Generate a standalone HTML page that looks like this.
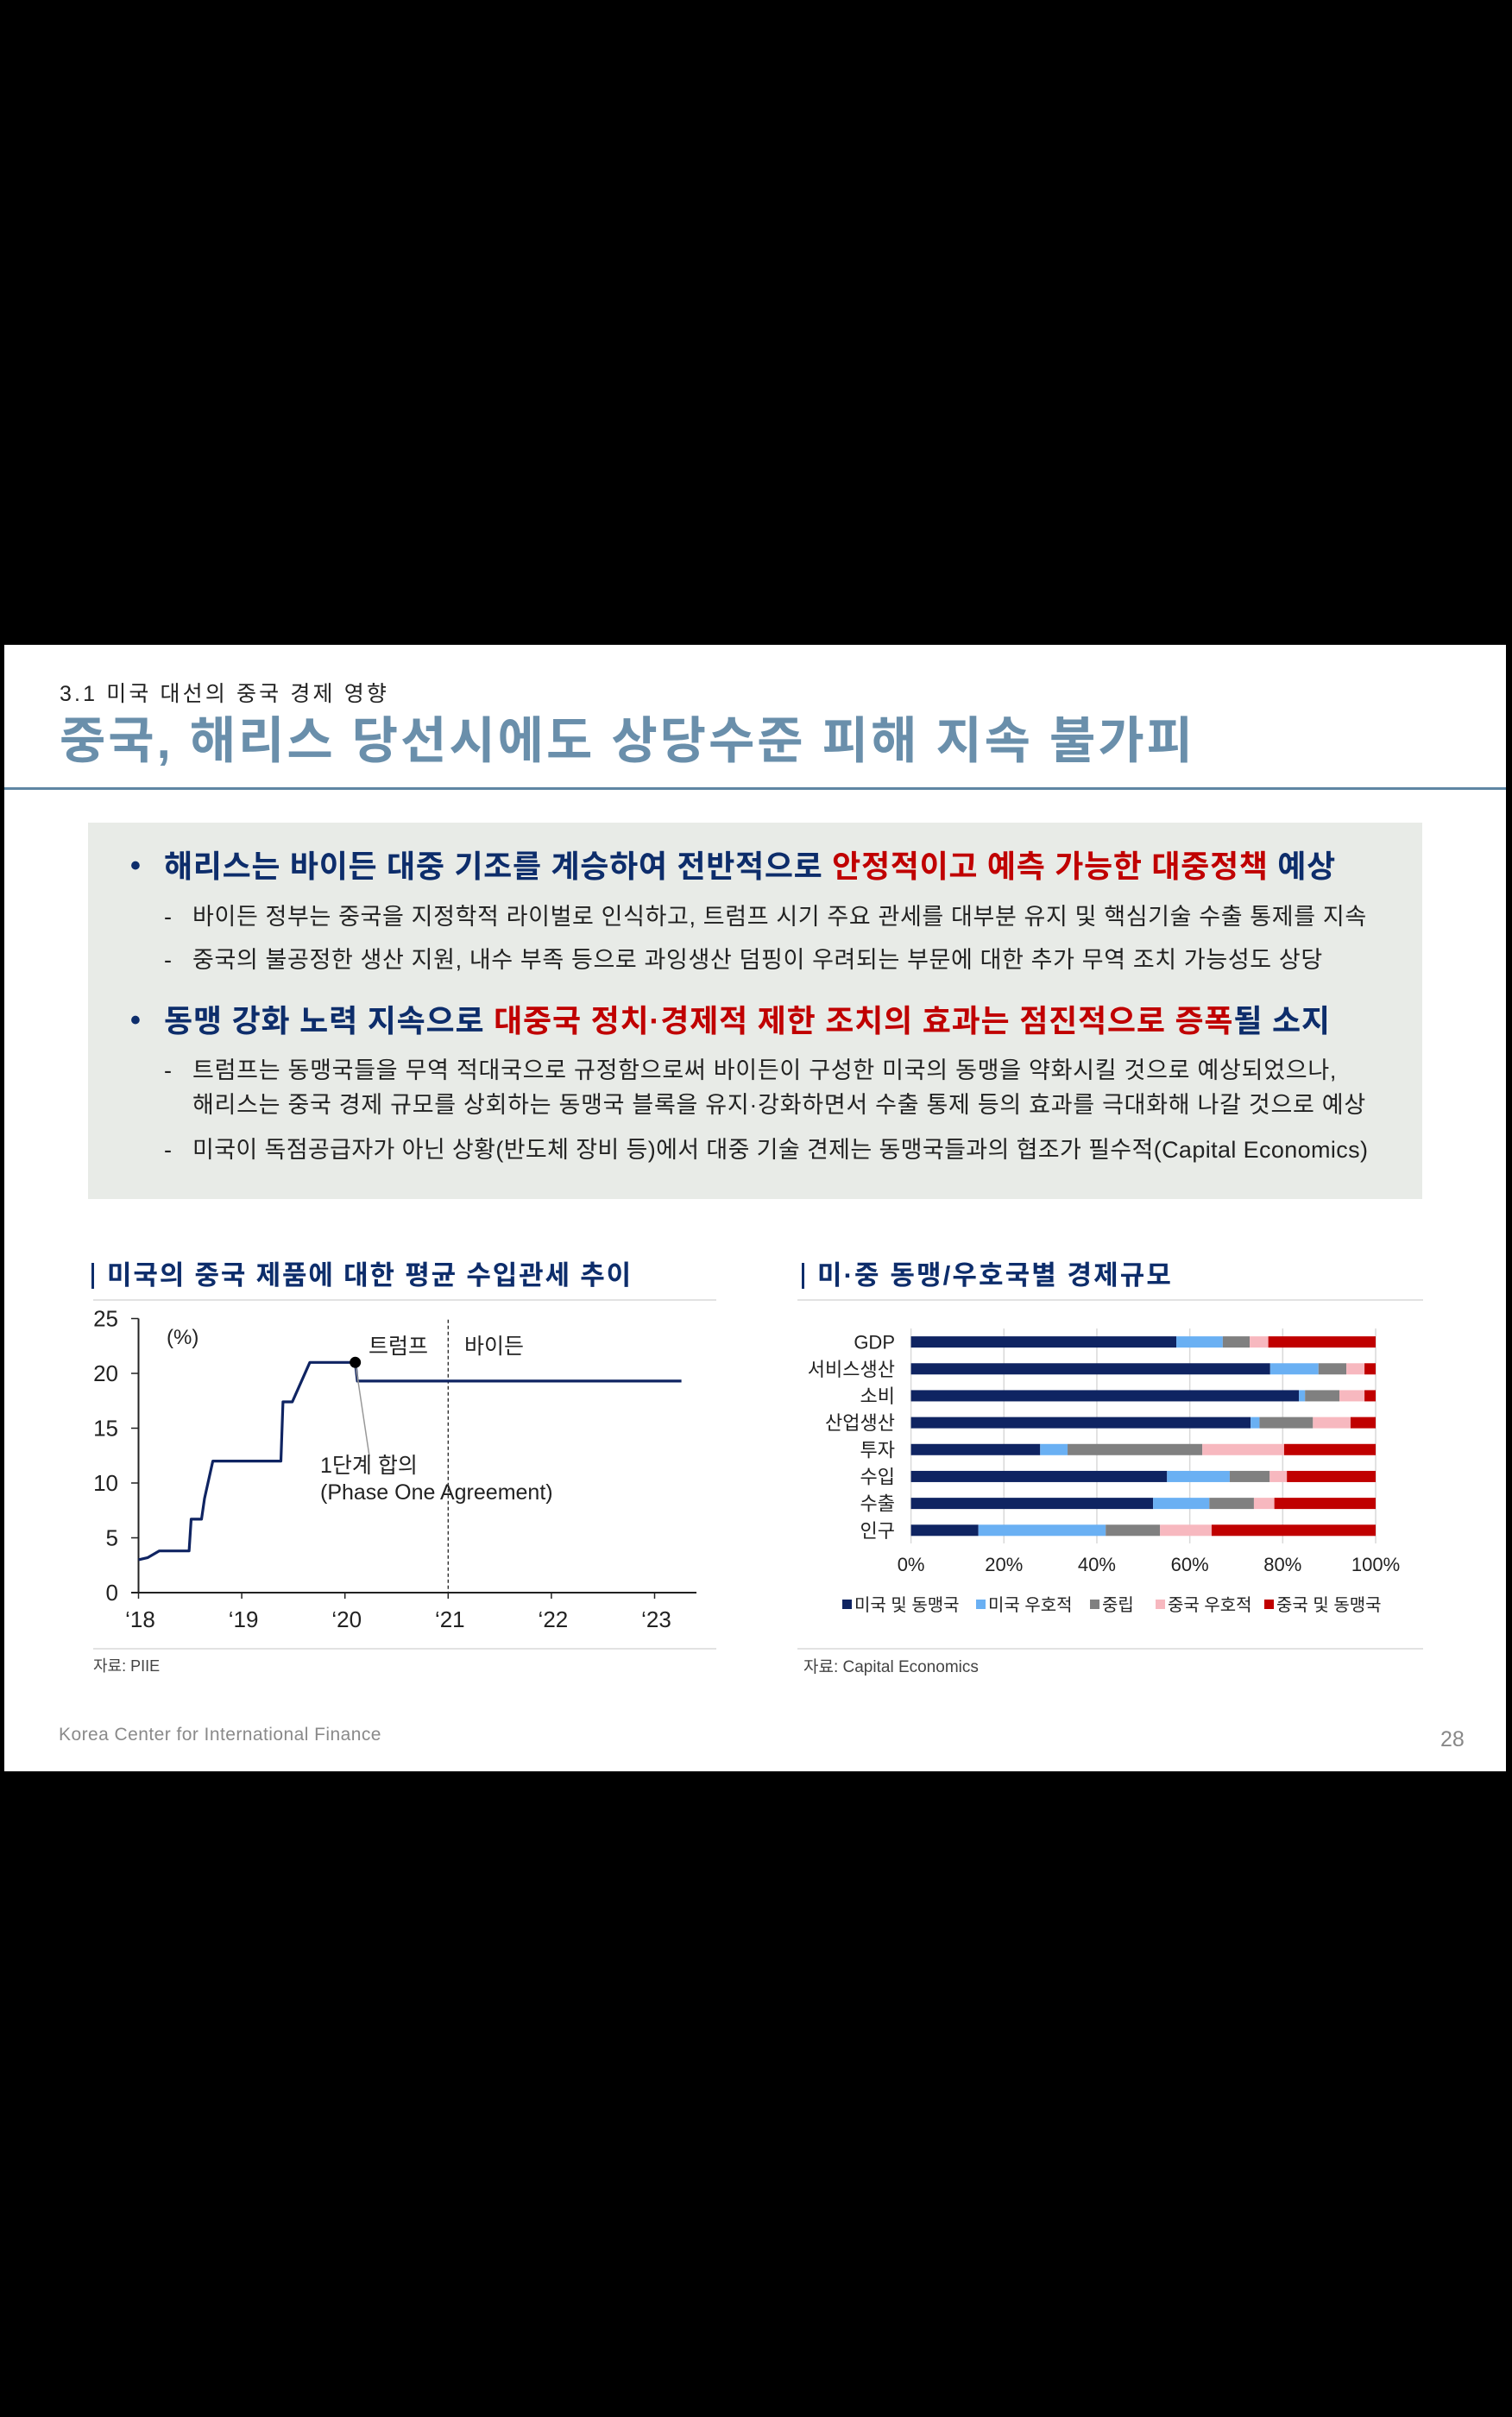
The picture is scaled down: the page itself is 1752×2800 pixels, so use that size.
<!DOCTYPE html>
<html><head><meta charset="utf-8">
<style>
html,body{margin:0;padding:0;background:#000;}
body{width:1752px;height:2800px;position:relative;overflow:hidden;font-family:"Liberation Sans","Noto Sans CJK KR",sans-serif;}
#slide{position:absolute;left:5px;top:747px;width:1740px;height:1305px;background:#fff;}
.a{position:absolute;white-space:nowrap;line-height:1;}
.b{color:#0d2d6b;font-weight:bold;}
.r{color:#c00000;}
.s{color:#222;font-size:27px;}
</style></head>
<body>
<div id="slide"></div>
<div class="a fit" data-w="382" style="left:69px;top:792px;font-size:25px;color:#222;">3.1 미국 대선의 중국 경제 영향</div>
<div class="a fit" data-w="1316" style="left:69px;top:830px;font-size:58px;font-weight:bold;color:#6a8fab;">중국, 해리스 당선시에도 상당수준 피해 지속 불가피</div>
<div class="a" style="left:5px;top:912px;width:1740px;height:3px;background:#5f86a3;"></div>

<div class="a" style="left:102px;top:953px;width:1546px;height:436px;background:#e8ebe7;"></div>
<div class="a b" style="left:151px;top:986px;font-size:34px;">•</div>
<div class="a fit b" data-w="1358" style="left:190px;top:986px;font-size:36px;">해리스는 바이든 대중 기조를 계승하여 전반적으로 <span class="r">안정적이고 예측 가능한 대중정책</span> 예상</div>
<div class="a s" style="left:190px;top:1049px;">-</div>
<div class="a s fit" data-w="1361" style="left:223px;top:1049px;">바이든 정부는 중국을 지정학적 라이벌로 인식하고, 트럼프 시기 주요 관세를 대부분 유지 및 핵심기술 수출 통제를 지속</div>
<div class="a s" style="left:190px;top:1099px;">-</div>
<div class="a s fit" data-w="1310" style="left:223px;top:1099px;">중국의 불공정한 생산 지원, 내수 부족 등으로 과잉생산 덤핑이 우려되는 부문에 대한 추가 무역 조치 가능성도 상당</div>
<div class="a b" style="left:151px;top:1165px;font-size:34px;">•</div>
<div class="a fit b" data-w="1352" style="left:190px;top:1165px;font-size:36px;">동맹 강화 노력 지속으로 <span class="r">대중국 정치·경제적 제한 조치의 효과는 점진적으로 증폭</span>될 소지</div>
<div class="a s" style="left:190px;top:1227px;">-</div>
<div class="a s fit" data-w="1326" style="left:223px;top:1227px;">트럼프는 동맹국들을 무역 적대국으로 규정함으로써 바이든이 구성한 미국의 동맹을 약화시킬 것으로 예상되었으나,</div>
<div class="a s fit" data-w="1360" style="left:223px;top:1267px;">해리스는 중국 경제 규모를 상회하는 동맹국 블록을 유지·강화하면서 수출 통제 등의 효과를 극대화해 나갈 것으로 예상</div>
<div class="a s" style="left:190px;top:1319px;">-</div>
<div class="a s fit" data-w="1362" style="left:223px;top:1319px;">미국이 독점공급자가 아닌 상황(반도체 장비 등)에서 대중 기술 견제는 동맹국들과의 협조가 필수적(Capital Economics)</div>

<div class="a" style="left:106px;top:1463px;width:3px;height:30px;background:#0d2d6b;"></div>
<div class="a fit b" data-w="609" style="left:124px;top:1462px;font-size:31px;">미국의 중국 제품에 대한 평균 수입관세 추이</div>
<div class="a" style="left:108px;top:1505px;width:722px;height:2px;background:#e2e2e2;"></div>
<div class="a" style="left:108px;top:1909px;width:722px;height:2px;background:#e2e2e2;"></div>
<div class="a" style="left:108px;top:1921px;font-size:18px;color:#444;">자료: PIIE</div>

<div class="a" style="left:929px;top:1463px;width:3px;height:30px;background:#0d2d6b;"></div>
<div class="a fit b" data-w="412" style="left:947px;top:1462px;font-size:31px;">미·중 동맹/우호국별 경제규모</div>
<div class="a" style="left:924px;top:1505px;width:725px;height:2px;background:#e2e2e2;"></div>
<div class="a" style="left:924px;top:1909px;width:725px;height:2px;background:#e2e2e2;"></div>
<div class="a" style="left:931px;top:1922px;font-size:19px;color:#444;">자료: Capital Economics</div>

<div class="a fit" data-w="374" style="left:68px;top:1999px;font-size:21px;color:#8a8a8a;">Korea Center for International Finance</div>
<div class="a" style="left:1669px;top:2003px;font-size:25px;color:#888;">28</div>

<svg id="charts" width="1752" height="2800" style="position:absolute;left:0;top:0;"></svg>

<script>
// ---- Line chart data ----
const lineYears = [2018.0, 2018.09, 2018.2, 2018.49, 2018.51, 2018.61, 2018.64, 2018.72, 2019.38, 2019.4, 2019.49, 2019.66, 2020.1, 2020.12, 2023.26];
const lineValues = [3.0, 3.2, 3.8, 3.8, 6.7, 6.7, 8.6, 12.0, 12.0, 17.4, 17.4, 21.0, 21.0, 19.3, 19.3];
const yTicks = [0, 5, 10, 15, 20, 25];
const xTickYears = [2018, 2019, 2020, 2021, 2022, 2023];
const xTickLabels = ["‘18", "‘19", "‘20", "‘21", "‘22", "‘23"];
const phaseOneYear = 2020.1;
const phaseOneValue = 21.0;

// ---- Bar chart data ----
const barCategories = ["GDP", "서비스생산", "소비", "산업생산", "투자", "수입", "수출", "인구"];
const usAllies = [57.1, 77.3, 83.5, 73.1, 27.8, 55.1, 52.1, 14.5];
const usFriendly = [10.0, 10.4, 1.3, 1.9, 5.9, 13.5, 12.1, 27.4];
const neutral = [5.8, 6.0, 7.4, 11.5, 29.0, 8.6, 9.6, 11.7];
const cnFriendly = [4.0, 3.9, 5.4, 8.1, 17.6, 3.7, 4.4, 11.1];
const cnAllies = [23.1, 2.4, 2.4, 5.4, 19.7, 19.1, 21.8, 35.3];
const seriesNames = ["미국 및 동맹국", "미국 우호적", "중립", "중국 우호적", "중국 및 동맹국"];
const pctTicks = [0, 20, 40, 60, 80, 100];

const NS = "http://www.w3.org/2000/svg";
const svg = document.getElementById('charts');
function mk(tag, attrs, parent) {
  const e = document.createElementNS(NS, tag);
  for (const k in attrs) e.setAttribute(k, attrs[k]);
  (parent || svg).appendChild(e);
  return e;
}
const FONT = '"Liberation Sans","Noto Sans CJK KR",sans-serif';

const lx = y => 160.5 + (y - 2018) * 119.6;
const ly = v => 1845 - v * 12.7;
let e;
e = mk('line', {x1: lx(2018), y1: ly(25), x2: lx(2018), y2: ly(0), stroke: '#222', 'stroke-width': 2});


e = mk('line', {x1: 152, y1: ly(0), x2: 807, y2: ly(0), stroke: '#222', 'stroke-width': 2});


yTicks.forEach(v => {
  const t = mk('line', {x1: 152, y1: ly(v), x2: lx(2018), y2: ly(v), stroke: '#222', 'stroke-width': 1.5});
  
  
  const l = mk('text', {x: 137, y: ly(v) + 9, 'text-anchor': 'end', 'font-size': 26, fill: '#222', 'font-family': FONT});
  l.textContent = v;
  
  
});
xTickYears.forEach((yr, i) => {
  const t = mk('line', {x1: lx(yr), y1: ly(0), x2: lx(yr), y2: ly(0) + 7, stroke: '#222', 'stroke-width': 1.5});
  
  
  const l = mk('text', {x: lx(yr) + 2, y: 1885, 'text-anchor': 'middle', 'font-size': 26, fill: '#222', 'font-family': FONT});
  l.textContent = xTickLabels[i];
  
  
});
e = mk('line', {x1: lx(2021), y1: ly(24.9), x2: lx(2021), y2: ly(0), stroke: '#222', 'stroke-width': 1.3, 'stroke-dasharray': '4,3'});


let pts = lineYears.map((y, i) => lx(y).toFixed(1) + ',' + ly(lineValues[i]).toFixed(1)).join(' ');
e = mk('polyline', {points: pts, fill: 'none', stroke: '#0f2462', 'stroke-width': 3.2, 'stroke-linejoin': 'round'});


e = mk('line', {x1: lx(phaseOneYear), y1: ly(phaseOneValue), x2: 428, y2: 1687, stroke: '#999', 'stroke-width': 1.5});


e = mk('circle', {cx: lx(phaseOneYear), cy: ly(phaseOneValue), r: 6.5, fill: '#000'});


function txt(x, y, s, size, name, anchor) {
  const t = mk('text', {x: x, y: y, 'font-size': size, fill: '#222', 'font-family': FONT, 'text-anchor': anchor || 'start'});
  t.textContent = s;
  
  
  return t;
}
txt(193, 1557, '(%)', 24, 'unit-label');
txt(427, 1568, '트럼프', 25, 'trump-label');
txt(538, 1568, '바이든', 25, 'biden-label');
txt(371, 1706, '1단계 합의', 25, 'annotation-line1');
txt(371, 1737, '(Phase One Agreement)', 25, 'annotation-line2');

const bx = p => 1055.6 + p * 5.384;
const by = i => 1554.6 + i * 31.17;
const barH = 13;
pctTicks.forEach(p => {
  const g = mk('line', {x1: bx(p), y1: 1539, x2: bx(p), y2: 1788, stroke: '#d9d9d9', 'stroke-width': 1.5});
  
  
  const l = mk('text', {x: bx(p), y: 1820, 'text-anchor': 'middle', 'font-size': 22, fill: '#222', 'font-family': FONT});
  l.textContent = p + '%';
  
  
});
const series = [usAllies, usFriendly, neutral, cnFriendly, cnAllies];
const colors = ['#0f2462', '#6ab0f3', '#808080', '#f7b8bf', '#c00000'];
barCategories.forEach((c, i) => {
  const l = mk('text', {x: 1037, y: by(i) + 8, 'text-anchor': 'end', 'font-size': 22, fill: '#222', 'font-family': FONT});
  l.textContent = c;
  
  
  let cum = 0;
  series.forEach((s, k) => {
    const r = mk('rect', {x: bx(cum), y: by(i) - barH / 2, width: bx(cum + s[i]) - bx(cum), height: barH, fill: colors[k]});
    
    
    cum += s[i];
  });
});
const legX = [976, 1131, 1263, 1339, 1465];
seriesNames.forEach((n, k) => {
  const r = mk('rect', {x: legX[k], y: 1853, width: 11, height: 11, fill: colors[k]});
  
  
  const t = mk('text', {x: legX[k] + 14, y: 1866, 'font-size': 20, fill: '#222', 'font-family': FONT});
  t.textContent = n;
  
  
});

document.querySelectorAll('.fit').forEach(el => {
  const w = +el.getAttribute('data-w');
  const cur = el.getBoundingClientRect().width;
  const n = el.textContent.length;
  if (n > 1) el.style.letterSpacing = ((w - cur) / n).toFixed(2) + 'px';
});
</script>
</body></html>
